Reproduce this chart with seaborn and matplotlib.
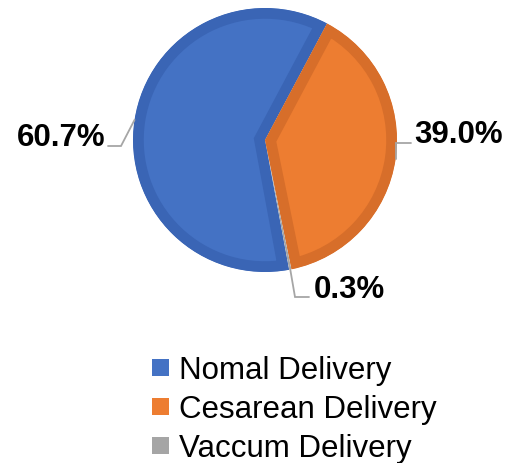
import numpy as np
import matplotlib
matplotlib.use("Agg")
import matplotlib.pyplot as plt
from matplotlib.patches import Patch
import seaborn as sns

# data
categories = ["Nomal Delivery", "Cesarean Delivery", "Vaccum Delivery"]
shares = [60.7, 39.0, 0.3]
pct_labels = ["60.7%", "39.0%", "0.3%"]

fill_colors = ["#4472C4", "#ED7D31", "#A5A5A5"]
edge_colors = ["#3A65B5", "#D76E2A", "#979797"]
leader_color = "#A6A6A6"

sns.set_theme(style="white")
plt.rcParams["font.family"] = ["Liberation Sans", "DejaVu Sans"]

W, H = 510, 463
fig = plt.figure(figsize=(W / 100, H / 100), dpi=100)
ax = fig.add_axes([0, 0, 1, 1])

# pie geometry in pixel units (y measured from bottom)
cx, cy, R = 265, H - 140, 132

wedges, _ = ax.pie(shares, colors=fill_colors, startangle=-79.5, counterclock=False,
                   center=(cx, cy), radius=R,
                   wedgeprops=dict(linewidth=15.5, joinstyle="miter"))
# Excel-like inner border: stroke clipped to its own wedge
for w, ec in zip(wedges, edge_colors):
    w.set_edgecolor(ec)
    w.set_clip_on(True)
    w.set_clip_path(w)
# the tiny slice is just a thin sliver, no border
wedges[2].set_linewidth(0)

ax.set_xlim(0, W)
ax.set_ylim(0, H)
ax.set_aspect("equal")
ax.axis("off")

# label layout: text anchor (px from top), alignment, leader elbow and end
label_layout = [
    dict(text=(106, 146), ha="right", elbow=(121, 146), end=(108, 146)),
    dict(text=(414, 143), ha="left", elbow=None, end=(411, 143)),
    dict(text=(314, 298), ha="left", elbow=(295, 297), end=(309, 297)),
]

for w, lab, lay in zip(wedges, pct_labels, label_layout):
    mid = np.deg2rad((w.theta1 + w.theta2) / 2)
    ax_x = cx + R * np.cos(mid)
    ax_y = cy + R * np.sin(mid)
    ex, ey = lay["end"]
    if lay["elbow"] is None:
        el = (ax_x, H - ey)
    else:
        el = (lay["elbow"][0], H - lay["elbow"][1])
    ax.plot([ax_x, el[0], ex], [ax_y, el[1], H - ey], color=leader_color,
            lw=1.3, solid_joinstyle="miter", zorder=1)
    tx, ty = lay["text"]
    ax.text(tx, H - ty, lab, ha=lay["ha"], va="baseline", fontsize=22.5,
            fontweight="bold", color="black")

handles = [Patch(facecolor=c, edgecolor="none") for c in fill_colors]
fig.legend(handles, categories, loc="upper left",
           bbox_to_anchor=(152 / W, 1 - 356 / H), frameon=False,
           fontsize=22.5, labelcolor="black", handlelength=0.56, handleheight=0.46,
           handletextpad=0.3, labelspacing=0.28, borderpad=0, borderaxespad=0)

fig.savefig("out.png", dpi=100)
